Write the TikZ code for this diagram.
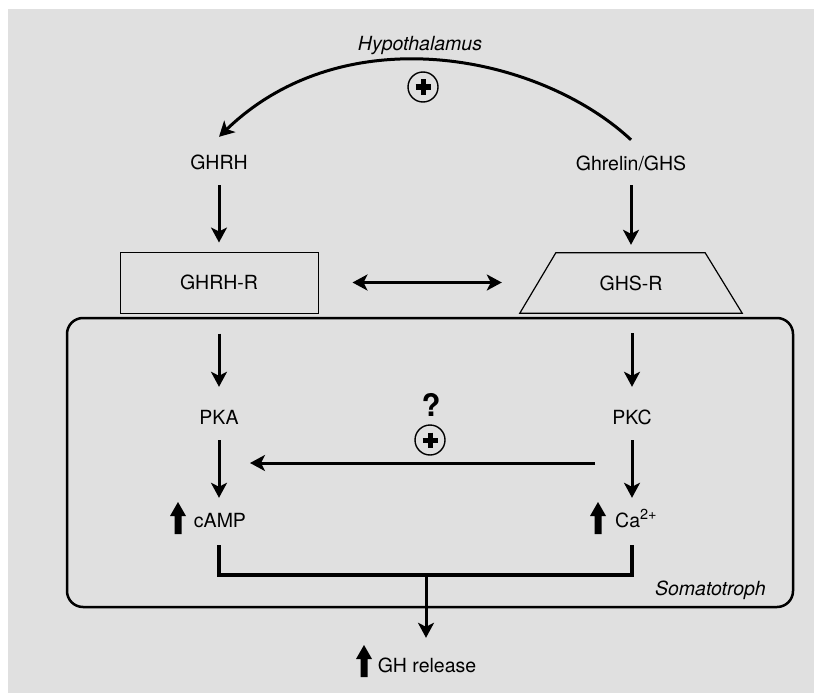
\documentclass[tikz,border=0pt]{standalone}
\usepackage{fontspec}
\setmainfont{TeX Gyre Heros}
\usetikzlibrary{arrows.meta}
\definecolor{bg}{RGB}{224,224,224}
\newcommand{\fsz}{\fontsize{19.5pt}{23pt}\selectfont}
\begin{document}
\begin{tikzpicture}[x=1pt,y=-1pt,
  every node/.style={font=\fsz, inner sep=0pt, text height=14pt, text depth=0pt},
  arr/.style={line width=3pt, -{Stealth[length=15pt,width=16pt,inset=4pt]}},
  darr/.style={line width=3pt, {Stealth[length=15pt,width=16pt,inset=4pt]}-{Stealth[length=15pt,width=16pt,inset=4pt]}},
  joinline/.style={line width=3.2pt},
  recbox/.style={draw, line width=1pt, minimum width=198pt, minimum height=61pt},
  cellbox/.style={draw, line width=2.5pt, rounded corners=16pt, minimum width=726pt, minimum height=289pt},
  itlbl/.style={font=\fsz\itshape},
  uparrow/.pic={\fill (-3.5,16) -- (-3.5,-2) -- (-8,-2) -- (0,-16) -- (8,-2) -- (3.5,-2) -- (3.5,16) -- cycle;},
  pluscirc/.pic={\draw[line width=1.4pt] (0,0) circle[radius=15pt];
                 \draw[line width=5pt] (-7.5,0) -- (7.5,0) (0,-7.5) -- (0,7.5);}
]
\useasboundingbox (0,0) rectangle (814,693);
\fill[bg] (8,9) rectangle (814,693);

% cell
\node[cellbox] (soma) at (430,462.5) {};
\node[itlbl, anchor=east] (somalbl) at (766,588) {Somatotroph};

% top
\node[itlbl] (hyp) at (420,44) {Hypothalamus};
\pic at (423,87) {pluscirc};
\node (ghrh) at (219,162) {GHRH};
\node (ghs) at (631,163) {Ghrelin/GHS};

% receptors
\node[recbox] (ghrhr) at (219,282.5) {GHRH-R};
\node[minimum width=222pt, minimum height=60pt] (ghsr) at (631,283) {GHS-R};
\draw[line width=1.2pt] (ghsr.south west) -- ([xshift=36pt]ghsr.north west)
  -- ([xshift=-37pt]ghsr.north east) -- (ghsr.south east) -- cycle;

% kinases and messengers
\node (pka) at (219,417) {PKA};
\node (pkc) at (632,417) {PKC};
\node (camp) at (220,520) {cAMP};
\node[anchor=west] (ca) at (615,520) {Ca\raisebox{7.5pt}{\fontsize{14.5pt}{16pt}\selectfont 2+}};
\pic at (178,518) {uparrow};
\pic at (598,518) {uparrow};
\node[font=\fontsize{31pt}{35pt}\selectfont\bfseries, text height=23pt] (q) at (431,405) {?};
\pic at (430,440) {pluscirc};

\node (ghrel) at (427,665) {GH release};
\pic at (364,661) {uparrow};

% connectors
\draw[arr] ([yshift=16pt]ghs.north) .. controls (540,55) and (345,15) .. ([yshift=18pt]ghrh.north);
\draw[arr, shorten <=16pt, shorten >=9pt] (ghrh) -- (ghrhr);
\draw[arr, shorten <=15pt, shorten >=8pt] (ghs) -- (ghsr);
\draw[darr, shorten <=34pt, shorten >=18pt] (ghrhr.east) -- (ghrhr.east -| ghsr.west);
\draw[arr, shorten <=20pt, shorten >=23pt] (ghrhr.south) -- (pka.north);
\draw[arr, shorten <=20pt, shorten >=23pt] (pkc |- ghsr.south) -- (pkc.north);
\draw[arr, shorten <=16pt, shorten >=15pt] (pka) -- (pka |- camp.north);
\draw[arr, shorten <=16pt, shorten >=15pt] (pkc) -- (pkc |- ca.north);
\coordinate (hR) at (595,463);
\coordinate (hL) at (250,463);
\draw[arr] (hR) -- (hL);
\coordinate (join) at (426,575);
\draw[joinline] ([yshift=-18pt]camp.south -| pka) -- (pka |- join) -- (pkc |- join) -- ([yshift=-18pt]ca.south -| pkc);
\draw[arr, shorten >=20pt] (join) -- (join |- ghrel.north);
\end{tikzpicture}
\end{document}
